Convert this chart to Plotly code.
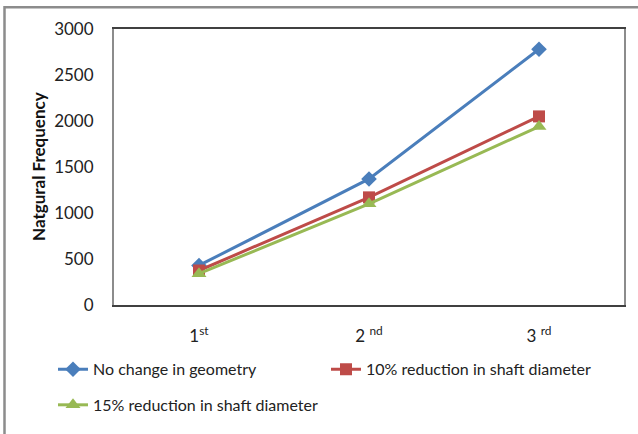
import plotly.graph_objects as go

# Mode order and natural frequency results for each shaft case
modes = ["1<sup>st</sup>", "2 <sup>nd</sup>", "3 <sup>rd</sup>"]
no_change = [430, 1370, 2780]
reduce_10 = [375, 1170, 2050]
reduce_15 = [340, 1100, 1940]
y_ticks = [0, 500, 1000, 1500, 2000, 2500, 3000]

W, H = 638, 434
L, R, T, B = 114, 14, 29, 126
pw, ph = W - L - R, H - T - B

def px_x(x):
    return (x - L) / pw

def px_y(y):
    return (H - B - y) / ph

FONT = "Lato"

fig = go.Figure()
fig.add_trace(go.Scatter(
    x=modes, y=no_change, name="No change in geometry", mode="lines+markers",
    line=dict(color="#4A7EBB", width=3),
    marker=dict(symbol="diamond", size=12, color="#4A7EBB"), legend="legend"))
fig.add_trace(go.Scatter(
    x=modes, y=reduce_10, name="10% reduction in shaft diameter", mode="lines+markers",
    line=dict(color="#BE4B48", width=3),
    marker=dict(symbol="square", size=12, color="#BE4B48"), legend="legend2"))
fig.add_trace(go.Scatter(
    x=modes, y=reduce_15, name="15% reduction in shaft diameter", mode="lines+markers",
    line=dict(color="#98B954", width=3),
    marker=dict(symbol="triangle-up", size=13, color="#98B954"), legend="legend3"))

legend_common = dict(orientation="h", xanchor="left", yanchor="middle",
                     font=dict(family=FONT, size=16, color="#222"),
                     bgcolor="rgba(0,0,0,0)", itemwidth=30)

fig.update_layout(
    width=W, height=H,
    margin=dict(l=L, r=R, t=T, b=B, pad=0),
    paper_bgcolor="white", plot_bgcolor="white",
    font=dict(family=FONT, size=16, color="#222"),
    showlegend=True,
    legend=dict(x=px_x(53), y=px_y(373), **legend_common),
    legend2=dict(x=px_x(326), y=px_y(373), **legend_common),
    legend3=dict(x=px_x(53), y=px_y(409), **legend_common),
    xaxis=dict(
        type="category", range=[-0.5, 2.5], showgrid=False, zeroline=False,
        showline=True, linecolor="#404040", linewidth=1.5, mirror=True,
        ticks="", ticklabelstandoff=15,
        tickfont=dict(family=FONT, size=17, color="#222")),
    yaxis=dict(
        range=[0, 3000], tickvals=y_ticks, showgrid=False, zeroline=False,
        showline=True, linecolor="#8c8c8c", linewidth=2, mirror=True,
        ticks="", ticklabelstandoff=15,
        tickfont=dict(family=FONT, size=17, color="#222")),
    shapes=[dict(
        type="path", xref="paper", yref="paper",
        path=f"M {px_x(4.5)} {px_y(440)} L {px_x(4.5)} {px_y(7)} L {px_x(645)} {px_y(7)}",
        line=dict(color="#8c8c8c", width=2.5))],
    annotations=[dict(
        text="<b>Natgural Frequency</b>", xref="paper", yref="paper",
        x=px_x(38), y=0.5, xanchor="center", yanchor="middle",
        textangle=-90, showarrow=False,
        font=dict(family=FONT, size=17, color="#111"))],
)

fig.write_html("out.html")
